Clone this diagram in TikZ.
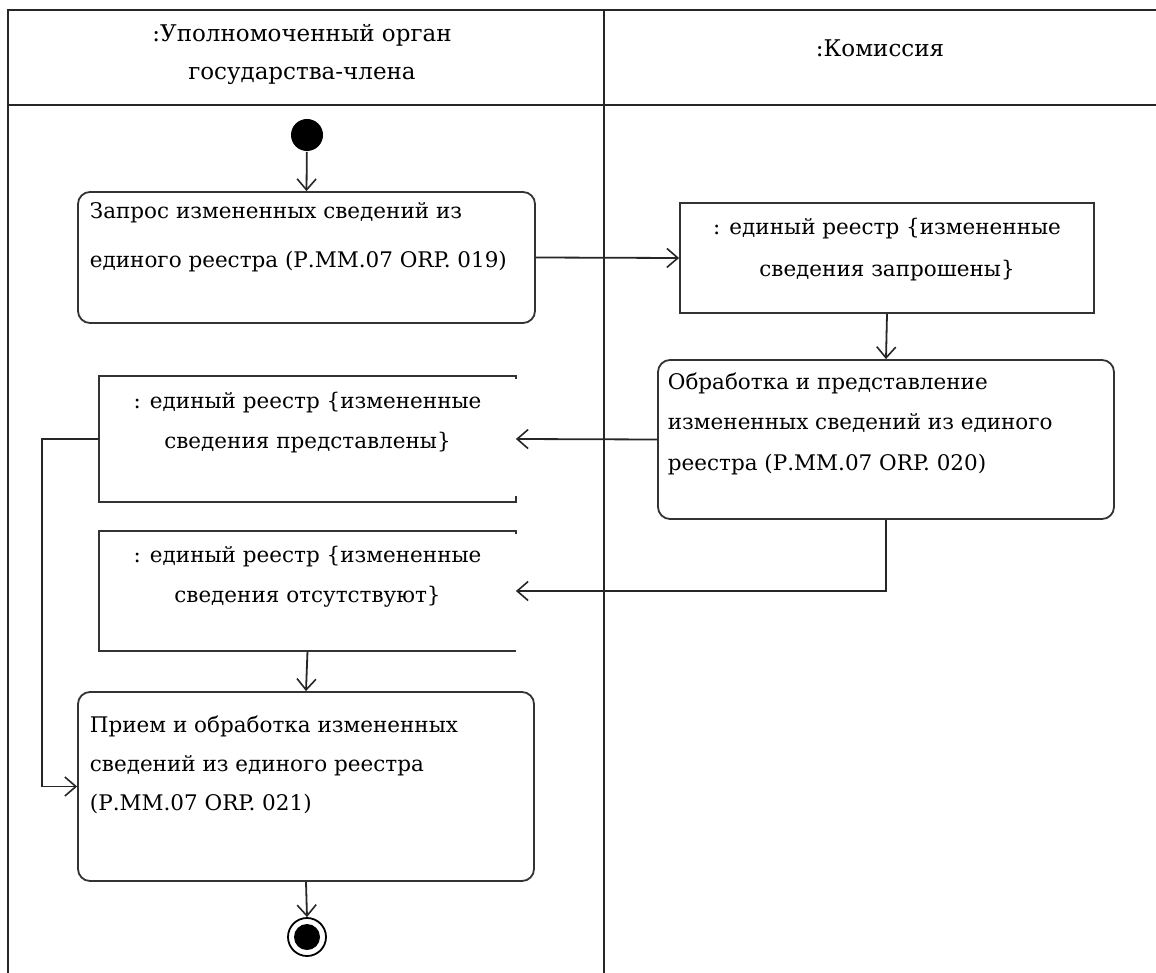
\documentclass[tikz,border=0pt]{standalone}
\usepackage{fontspec}
\setmainfont{DejaVu Serif}
\usetikzlibrary{arrows.meta,calc}
\begin{document}
\begin{tikzpicture}[x=1pt,y=-1pt,
  line width=1.8pt,
  frame/.style={line width=1.8pt, draw=black!85},
  actbox/.style={draw=black!80, line width=1.8pt, rounded corners=12pt, inner sep=0pt},
  objbox/.style={draw=black!80, line width=1.8pt, inner sep=0pt},
  objopen/.style={inner sep=0pt},
  boxtxt/.style={inner sep=0pt, font=\fontsize{21.5}{40}\selectfont, align=left},
  objtxt/.style={inner sep=0pt, font=\fontsize{21.5}{40}\selectfont, align=center},
  hdr/.style={inner sep=0pt, font=\fontsize{23}{38}\selectfont, align=center},
  flow/.style={draw=black!85, line width=1.8pt, -{Straight Barb[length=11pt,width=19pt,line width=1.6pt]}},
  startnode/.style={circle, fill=black, minimum size=32pt, inner sep=0pt},
  endnode/.style={circle, draw=black, line width=1.8pt, fill=white, minimum size=38pt, inner sep=0pt,
     path picture={\fill[black] (path picture bounding box.center) circle (13pt);}}
]
\useasboundingbox (0,0) rectangle (1156,973);
% swimlane frame
\coordinate (ftl) at (8,10);
\coordinate (ftr) at (1156,10);
\coordinate (fhl) at (8,105);
\coordinate (fhr) at (1156,105);
\coordinate (fbl) at (8,973);
\coordinate (fmt) at (604,10);
\coordinate (fmb) at (604,973);
\draw[frame] (ftr) -- (ftl) -- (fbl);
\draw[frame] (fhl) -- (fhr);
\draw[frame] (fmt) -- (fmb);
\node[hdr, anchor=base] (h1) at (302,80) {:Уполномоченный орган\\государства-члена};
\node[hdr, anchor=base] (h2) at (880,57) {:Комиссия};

% nodes
\node[startnode] (start) at (307,135) {};
\node[actbox, minimum width=457pt, minimum height=131pt] (b1) at (306.5,257.5) {};
\node[boxtxt, anchor=base west, font=\fontsize{21.5}{49}\selectfont] (t1) at (89,268) {Запрос измененных сведений из\\единого реестра (Р.ММ.07 ORP. 019)};

\node[objbox, minimum width=414pt, minimum height=110pt] (b2) at (887,258) {};
\node[objtxt, anchor=base, font=\fontsize{21.5}{42}\selectfont] (t2) at (887,277) {: единый реестр \{измененные\\сведения запрошены\}};

\node[actbox, minimum width=456pt, minimum height=159pt] (b3) at (886,439.5) {};
\node[boxtxt, anchor=base west, font=\fontsize{21.5}{40.5}\selectfont] (t3) at (667,470) {Обработка и представление\\измененных сведений из единого\\реестра (Р.ММ.07 ORP. 020)};

\node[objopen, minimum width=415pt, minimum height=124pt] (b4) at (307.5,439) {};
\draw[draw=black!80, line width=1.8pt] ($(b4.north east)+(0,3)$) -- (b4.north east) -- (b4.north west) -- (b4.south west) -- (b4.south east) -- ++(0,-6);
\node[objtxt, anchor=base] (t4) at (307.5,448) {: единый реестр \{измененные\\сведения представлены\}};

\node[objopen, minimum width=415pt, minimum height=118pt] (b5) at (307.5,591) {};
\draw[draw=black!80, line width=1.8pt] ($(b5.north east)+(0,3)$) -- (b5.north east) -- (b5.north west) -- (b5.south west) -- (b5.south east);
\node[objtxt, anchor=base] (t5) at (307.5,602) {: единый реестр \{измененные\\сведения отсутствуют\}};

\node[actbox, minimum width=456pt, minimum height=189pt] (b6) at (306,786.5) {};
\node[boxtxt, anchor=base west, font=\fontsize{21.5}{39}\selectfont] (t6) at (89,810) {Прием и обработка измененных\\сведений из единого реестра\\(Р.ММ.07 ORP. 021)};

\node[endnode] (end) at (307,937) {};

% connectors
\coordinate (c4l) at (42,439);
\coordinate (c6l) at (42,786.5);
\coordinate (c3b) at (886,591);
\draw[flow] (start) -- (b1.north);
\draw[flow] (b1.east) -- (b2.west);
\draw[flow] (b2.south) -- (b3.north);
\draw[flow] (b3.west) -- (b4.east);
\draw[flow] (b3.south) -- (c3b) -- (b5.east);
\draw[flow] (b5.south) -- (b6.north);
\draw[flow] (b4.west) -- (c4l) -- (c6l) -- (b6.west);
\draw[flow] (b6.south) -- (end.north);
\end{tikzpicture}
\end{document}
